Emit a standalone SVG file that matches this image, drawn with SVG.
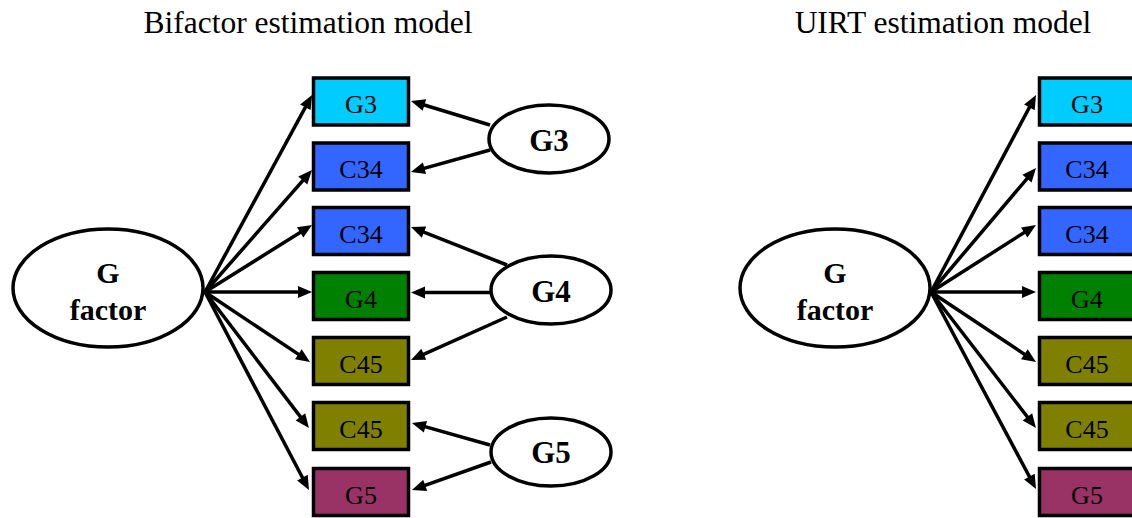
<svg xmlns="http://www.w3.org/2000/svg" width="1132" height="518" viewBox="0 0 1132 518">
<style>
.title{font-family:"Liberation Serif","Times New Roman",serif;font-size:31.5px;fill:#000;text-anchor:middle}
.box{stroke:#000;stroke-width:3.5}
.btxt{font-family:"Liberation Serif","Times New Roman",serif;font-size:26px;fill:#000;text-anchor:middle}
.ell{fill:#fff;stroke:#000;stroke-width:3.5}
.etxt{font-family:"Liberation Serif","Times New Roman",serif;font-size:31px;font-weight:bold;fill:#000;text-anchor:middle}
.gtxt{font-family:"Liberation Serif","Times New Roman",serif;font-size:30px;font-weight:bold;fill:#000;text-anchor:middle}
.arr{stroke:#000;stroke-width:3.5;fill:none;marker-end:url(#ah)}
.g3{fill:#00CCFF}.c34{fill:#3366FF}.g4{fill:#008000}.c45{fill:#808000}.g5{fill:#993366}
</style>
<defs>
<marker id="ah" markerUnits="userSpaceOnUse" markerWidth="16" markerHeight="14" refX="7" refY="6" orient="auto" viewBox="0 0 16 14" overflow="visible">
<path d="M0,0 L14,6 L0,12 z" fill="#000"/>
</marker>
</defs>
<text class="title" x="308" y="33">Bifactor estimation model</text>
<text class="title" x="943" y="33">UIRT estimation model</text>
<g id="connectors">
<line class="arr" x1="205" y1="292" x2="308.7" y2="101.1"/>
<line class="arr" x1="205" y1="292" x2="307.4" y2="175.3"/>
<line class="arr" x1="205" y1="292" x2="306.1" y2="228.7"/>
<line class="arr" x1="205" y1="292" x2="305" y2="292"/>
<line class="arr" x1="205" y1="292" x2="304.2" y2="358.1"/>
<line class="arr" x1="205" y1="292" x2="304.7" y2="422.4"/>
<line class="arr" x1="205" y1="292" x2="305.7" y2="483.8"/>
<line class="arr" x1="490" y1="125" x2="417.7" y2="103"/>
<line class="arr" x1="490" y1="150" x2="417.7" y2="170.1"/>
<line class="arr" x1="507" y1="265" x2="417.5" y2="229.6"/>
<line class="arr" x1="492" y1="292.5" x2="418" y2="292.5"/>
<line class="arr" x1="507" y1="317" x2="417.4" y2="357.1"/>
<line class="arr" x1="490" y1="445" x2="418.7" y2="424.9"/>
<line class="arr" x1="491" y1="462" x2="418.6" y2="487.7"/>
<line class="arr" x1="931" y1="292" x2="1032.7" y2="101.2"/>
<line class="arr" x1="931" y1="292" x2="1031.5" y2="173.3"/>
<line class="arr" x1="931" y1="292" x2="1030.1" y2="228.8"/>
<line class="arr" x1="931" y1="292" x2="1029" y2="292"/>
<line class="arr" x1="931" y1="292" x2="1030.2" y2="358.1"/>
<line class="arr" x1="931" y1="292" x2="1031.7" y2="422.5"/>
<line class="arr" x1="931" y1="292" x2="1032.7" y2="482.8"/>
</g>
<g id="L-gfactor"><ellipse class="ell" cx="108" cy="288" rx="95" ry="59"/><text class="gtxt" x="108" y="283">G</text><text class="gtxt" x="108" y="320">factor</text></g>
<g id="L-G3-latent"><ellipse class="ell" cx="549" cy="139" rx="60" ry="34"/><text class="etxt" x="549" y="151">G3</text></g>
<g id="L-G4-latent"><ellipse class="ell" cx="551" cy="290" rx="60" ry="34"/><text class="etxt" x="551" y="302">G4</text></g>
<g id="L-G5-latent"><ellipse class="ell" cx="551" cy="452" rx="60" ry="34"/><text class="etxt" x="551" y="463">G5</text></g>
<g id="L-box1"><rect class="box g3" x="313.5" y="78" width="95" height="47"/><text class="btxt" x="361" y="113">G3</text></g>
<g id="L-box2"><rect class="box c34" x="313.5" y="143" width="95" height="47"/><text class="btxt" x="361" y="178">C34</text></g>
<g id="L-box3"><rect class="box c34" x="313.5" y="207.5" width="95" height="47"/><text class="btxt" x="361" y="242.5">C34</text></g>
<g id="L-box4"><rect class="box g4" x="313.5" y="272.5" width="95" height="47"/><text class="btxt" x="361" y="307.5">G4</text></g>
<g id="L-box5"><rect class="box c45" x="313.5" y="337.5" width="95" height="47"/><text class="btxt" x="361" y="372.5">C45</text></g>
<g id="L-box6"><rect class="box c45" x="313.5" y="402.5" width="95" height="47"/><text class="btxt" x="361" y="437.5">C45</text></g>
<g id="L-box7"><rect class="box g5" x="313.5" y="468.5" width="95" height="47"/><text class="btxt" x="361" y="503.5">G5</text></g>
<g id="R-gfactor"><ellipse class="ell" cx="835" cy="288" rx="95" ry="59"/><text class="gtxt" x="835" y="283">G</text><text class="gtxt" x="835" y="320">factor</text></g>
<g id="R-box1"><rect class="box g3" x="1039.5" y="78" width="95" height="47"/><text class="btxt" x="1087" y="113">G3</text></g>
<g id="R-box2"><rect class="box c34" x="1039.5" y="143" width="95" height="47"/><text class="btxt" x="1087" y="178">C34</text></g>
<g id="R-box3"><rect class="box c34" x="1039.5" y="207.5" width="95" height="47"/><text class="btxt" x="1087" y="242.5">C34</text></g>
<g id="R-box4"><rect class="box g4" x="1039.5" y="272.5" width="95" height="47"/><text class="btxt" x="1087" y="307.5">G4</text></g>
<g id="R-box5"><rect class="box c45" x="1039.5" y="337.5" width="95" height="47"/><text class="btxt" x="1087" y="372.5">C45</text></g>
<g id="R-box6"><rect class="box c45" x="1039.5" y="402.5" width="95" height="47"/><text class="btxt" x="1087" y="437.5">C45</text></g>
<g id="R-box7"><rect class="box g5" x="1039.5" y="468.5" width="95" height="47"/><text class="btxt" x="1087" y="503.5">G5</text></g>
</svg>
